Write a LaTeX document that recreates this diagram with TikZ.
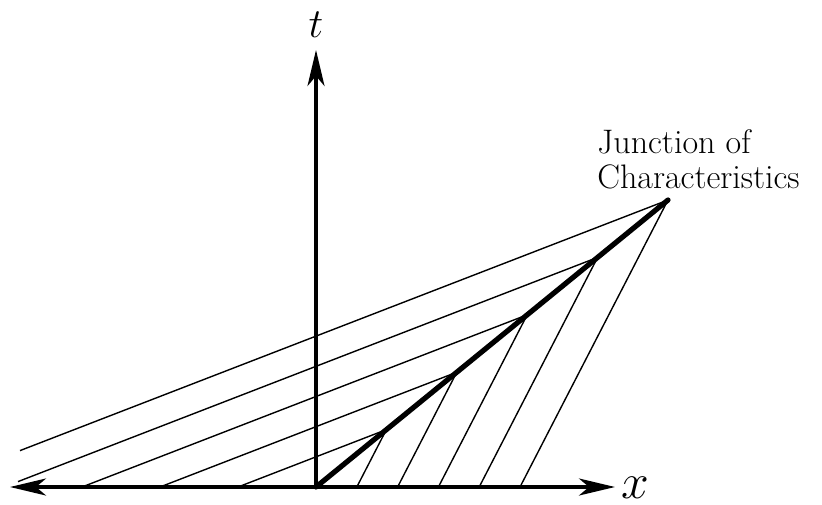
\documentclass[tikz,border=0pt]{standalone}
\usepackage{amsmath}
\usetikzlibrary{arrows.meta,positioning,calc}

\begin{document}
\begin{tikzpicture}[
    x=0.5pt, y=0.5pt,
    axis/.style={line width=1.6pt},
    tip/.style={-{Stealth[length=18pt,width=8.5pt,inset=5pt]}},
    shock/.style={line width=2.6pt, line cap=round},
    charline/.style={line width=0.7pt},
    axislabel/.style={inner sep=0pt},
]
\useasboundingbox (-316,-17) rectangle (506,487);

\coordinate (O) at (0,0);
\coordinate (J) at (352,287);
\coordinate (xneg) at (-306,0);
\coordinate (xpos) at (299,0);
\coordinate (ttop) at (0,437);

% characteristics meeting the shock
\foreach \k in {1,...,5} {
    \coordinate (P\k) at ($(O)!\k/5!(J)$);
    \coordinate (A\k) at (40.8*\k,0);
    \draw[charline] (A\k) -- (P\k);
}
\coordinate (B1) at (-78,0);
\coordinate (B2) at (-156,0);
\coordinate (B3) at (-234,0);
\coordinate (B4) at (-298,5.4);
\coordinate (B5) at (-296,36.4);
\foreach \k in {1,...,5} {
    \draw[charline] (P\k) -- (B\k);
}

% axes
\draw[axis, tip] (O) -- (xpos);
\draw[axis, tip] (O) -- (xneg);
\draw[axis, tip] (O) -- (ttop);

% shock
\draw[shock] (O) -- (J);

% labels
\node[axislabel] (tlab) at (0,462) {\fontsize{21}{24}\selectfont $t$};
\node[axislabel] (xlab) at (319,-1) {\fontsize{24}{28}\selectfont $x$};
\node[anchor=north west, inner sep=0pt, align=left,
      font=\fontsize{17}{17.5}\selectfont] (junction) at (281,358)
    {Junction of\\Characteristics};
\end{tikzpicture}
\end{document}
